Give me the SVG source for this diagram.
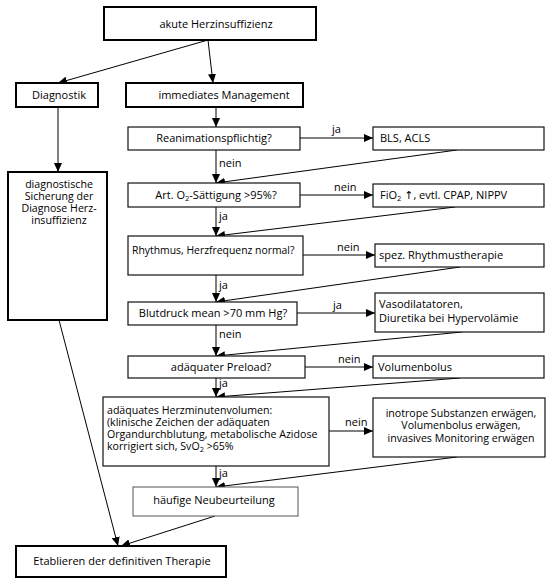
<svg xmlns="http://www.w3.org/2000/svg" width="550" height="583" viewBox="0 0 550 583">
<defs>
<marker id="ah" markerUnits="userSpaceOnUse" markerWidth="10" markerHeight="8" refX="9" refY="4" orient="auto">
<path d="M0,0 L9,4 L0,8 Z" fill="#000"/>
</marker>
<style>
text{font-family:"Open Sans","DejaVu Sans",sans-serif;font-size:11px;fill:#000}
.c{text-anchor:middle}
.thick{fill:#fff;stroke:#000;stroke-width:2}
.box{fill:#fff;stroke:#111;stroke-width:1.2}
.gray{fill:#fff;stroke:#555;stroke-width:1}
.ln{stroke:#000;stroke-width:1;fill:none;marker-end:url(#ah)}
.sub{font-size:7.5px}
.ml{font-size:10.6px}
</style>
</defs>
<rect width="550" height="583" fill="#fff"/>
<g id="connectors">
<line class="ln" x1="208" y1="40" x2="58" y2="83"/>
<line class="ln" x1="208" y1="40" x2="213" y2="83"/>
<line class="ln" x1="58" y1="107" x2="58" y2="172"/>
<line class="ln" x1="216" y1="107" x2="216" y2="127"/>
<line class="ln" x1="216" y1="150" x2="216" y2="183"/>
<line class="ln" x1="216" y1="207" x2="216" y2="236"/>
<line class="ln" x1="216" y1="275" x2="216" y2="302"/>
<line class="ln" x1="216" y1="325" x2="216" y2="356"/>
<line class="ln" x1="216" y1="378" x2="216" y2="397"/>
<line class="ln" x1="216" y1="466" x2="216" y2="487"/>
<line class="ln" x1="300" y1="138" x2="373" y2="138"/>
<line class="ln" x1="300" y1="195" x2="373" y2="195"/>
<line class="ln" x1="303" y1="255" x2="375" y2="255"/>
<line class="ln" x1="297" y1="313" x2="375" y2="313"/>
<line class="ln" x1="305" y1="367" x2="373" y2="367"/>
<line class="ln" x1="329" y1="431" x2="373" y2="431"/>
<line class="ln" x1="457" y1="150" x2="216" y2="183"/>
<line class="ln" x1="455" y1="207" x2="216" y2="236"/>
<line class="ln" x1="460" y1="267" x2="216" y2="302"/>
<line class="ln" x1="462" y1="332" x2="216" y2="356"/>
<line class="ln" x1="460" y1="378" x2="216" y2="397"/>
<line class="ln" x1="457" y1="457" x2="216" y2="487"/>
<line class="ln" x1="215" y1="516" x2="121" y2="546"/>
<line class="ln" x1="59" y1="320" x2="118" y2="546"/>
<text x="332" y="133">ja</text>
<text x="219" y="167">nein</text>
<text x="334" y="191">nein</text>
<text x="219" y="220">ja</text>
<text x="337" y="251">nein</text>
<text x="219" y="289">ja</text>
<text x="333" y="309">ja</text>
<text x="219" y="338">nein</text>
<text x="338" y="363">nein</text>
<text x="219" y="387">ja</text>
<text x="345" y="426">nein</text>
<text x="219" y="477">ja</text>
</g>
<g id="n-top"><rect class="thick" x="104" y="7" width="212" height="33"/><text class="c" x="216" y="28">akute Herzinsuffizienz</text></g>
<g id="n-diag"><rect class="thick" x="16" y="83" width="82" height="24"/><text class="c" x="59" y="99">Diagnostik</text></g>
<g id="n-imm"><rect class="thick" x="126" y="83" width="177" height="24"/><text class="c" x="224" y="99">immediates Management</text></g>
<g id="n-sich"><rect class="thick" x="8" y="172" width="99" height="148"/>
<text class="c ml" x="59" y="188">diagnostische</text>
<text class="c ml" x="59" y="200">Sicherung der</text>
<text class="c ml" x="59" y="212">Diagnose Herz-</text>
<text class="c ml" x="59" y="224">insuffizienz</text></g>
<g id="n-rea"><rect class="box" x="128" y="127" width="172" height="23"/><text class="c" x="214" y="142">Reanimationspflichtig?</text></g>
<g id="n-bls"><rect class="box" x="373" y="127" width="171" height="23"/><text x="380" y="142">BLS, ACLS</text></g>
<g id="n-o2"><rect class="box" x="128" y="183" width="172" height="24"/><text class="c" x="216" y="199">Art. O<tspan class="sub" dy="2">2</tspan><tspan dy="-2">-Sättigung &gt;95%?</tspan></text></g>
<g id="n-fio2"><rect class="box" x="373" y="184" width="171" height="23"/><text x="380" y="199">FiO<tspan class="sub" dy="2">2</tspan><tspan dy="-2"> ↑, evtl. CPAP, NIPPV</tspan></text></g>
<g id="n-rhy"><rect class="box" x="128" y="236" width="175" height="39"/><text x="132" y="254" style="font-size:10.4px">Rhythmus, Herzfrequenz normal?</text></g>
<g id="n-spez"><rect class="box" x="375" y="244" width="169" height="23"/><text x="379" y="259">spez. Rhythmustherapie</text></g>
<g id="n-bd"><rect class="box" x="128" y="302" width="169" height="23"/><text class="c" x="213" y="317">Blutdruck mean &gt;70 mm Hg?</text></g>
<g id="n-vaso"><rect class="box" x="375" y="293" width="169" height="39"/><text x="379" y="308">Vasodilatatoren,</text><text x="379" y="322">Diuretika bei Hypervolämie</text></g>
<g id="n-pre"><rect class="box" x="128" y="356" width="177" height="22"/><text class="c" x="221" y="371">adäquater Preload?</text></g>
<g id="n-vol"><rect class="box" x="373" y="356" width="171" height="22"/><text x="378" y="371">Volumenbolus</text></g>
<g id="n-hmv"><rect class="box" x="103" y="397" width="226" height="69"/>
<text class="ml" x="107" y="414">adäquates Herzminutenvolumen:</text>
<text class="ml" x="107" y="426">(klinische Zeichen der adäquaten</text>
<text class="ml" x="107" y="438">Organdurchblutung, metabolische Azidose</text>
<text class="ml" x="107" y="450">korrigiert sich, SvO<tspan class="sub" dy="2">2</tspan><tspan dy="-2"> &gt;65%</tspan></text></g>
<g id="n-ino"><rect class="box" x="373" y="398" width="172" height="59"/>
<text class="c ml" x="461" y="417">inotrope Substanzen erwägen,</text>
<text class="c ml" x="461" y="429">Volumenbolus erwägen,</text>
<text class="c ml" x="461" y="442">invasives Monitoring erwägen</text></g>
<g id="n-neu"><rect class="gray" x="133" y="487" width="165" height="29"/><text class="c" x="214" y="504">häufige Neubeurteilung</text></g>
<g id="n-etab"><rect class="thick" x="16" y="546" width="210" height="31"/><text class="c" x="122" y="565">Etablieren der definitiven Therapie</text></g>
</svg>
